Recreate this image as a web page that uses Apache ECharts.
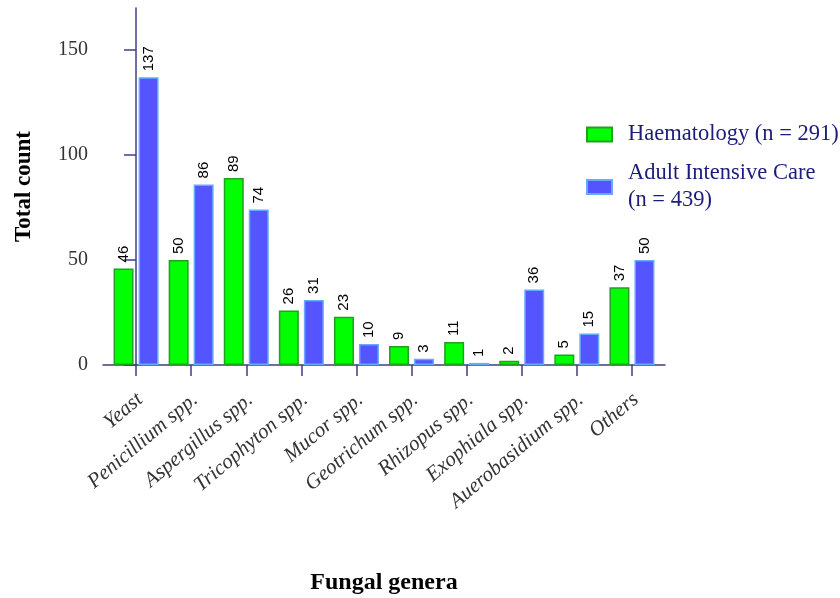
<!DOCTYPE html>
<html>
<head>
<meta charset="utf-8">
<script src="https://cdn.jsdelivr.net/npm/echarts@6/dist/echarts.min.js"></script>
<style>html,body{margin:0;padding:0;background:#fff;}#c{width:840px;height:598px;}</style>
</head>
<body>
<div id="c"></div>
<script>
const categories = ['Yeast', 'Penicillium spp.', 'Aspergillus spp.', 'Tricophyton spp.', 'Mucor spp.', 'Geotrichum spp.', 'Rhizopus spp.', 'Exophiala spp.', 'Auerobasidium spp.', 'Others'];
const haematology = [46, 50, 89, 26, 23, 9, 11, 2, 5, 37];
const adultIntensiveCare = [137, 86, 74, 31, 10, 3, 1, 36, 15, 50];
const yTicks = [0, 50, 100, 150];
const seriesNames = ['Haematology (n = 291)', 'Adult Intensive Care\n(n = 439)'];

const axisColor = '#3b3f7f';
const serif = '"Liberation Serif", "Times New Roman", serif';
const catIdx = categories.map((_, i) => i);
const labelPos = categories.map((_, i) => i - 0.05);

const chart = echarts.init(document.getElementById('c'), null, {renderer: 'canvas'});
const barLabel = {
  show: true, position: 'top', rotate: 90, align: 'left', verticalAlign: 'middle',
  distance: 6, color: '#000', fontFamily: '"Liberation Sans", Arial, sans-serif', fontSize: 15
};
chart.setOption({
  animation: false,
  grid: {left: 103, right: 175, top: 8, bottom: 233, containLabel: false, outerBoundsMode: 'none'},
  legend: {
    orient: 'vertical', left: 586, top: 121, padding: 0, itemWidth: 25, itemHeight: 14, itemGap: 12,
    icon: 'rect',
    textStyle: {fontFamily: serif, fontSize: 22.5, color: '#1c1c7c', lineHeight: 27, padding: [0, 0, 0, 11]},
    data: seriesNames
  },
  xAxis: {
    type: 'value', min: -0.6, max: 9.6,
    name: 'Fungal genera', nameLocation: 'middle', nameGap: 206,
    nameTextStyle: {fontFamily: serif, fontSize: 24, fontWeight: 'bold', color: '#000'},
    axisLine: {show: true, lineStyle: {color: axisColor, width: 1.5}},
    axisTick: {show: true, length: 11, customValues: catIdx, lineStyle: {color: axisColor, width: 1.5}},
    axisLabel: {
      customValues: labelPos, rotate: 40, margin: 24, align: 'right', verticalAlign: 'top',
      fontFamily: serif, fontSize: 21, fontStyle: 'italic', color: '#333',
      formatter: v => categories[Math.round(v)]
    },
    splitLine: {show: false}
  },
  yAxis: {
    type: 'value', min: 0, max: 170,
    name: 'Total count', nameLocation: 'middle', nameGap: 67, nameRotate: 90,
    nameTextStyle: {fontFamily: serif, fontSize: 23, fontWeight: 'bold', color: '#000'},
    axisLine: {show: true, lineStyle: {color: axisColor, width: 1.5}},
    axisTick: {show: true, length: 12, customValues: yTicks, lineStyle: {color: axisColor, width: 1.5}},
    axisLabel: {customValues: yTicks, margin: 15, fontFamily: serif, fontSize: 20, color: '#333'},
    splitLine: {show: false}
  },
  series: [
    {
      name: seriesNames[0], type: 'bar', barWidth: 20, barGap: '25%',
      itemStyle: {color: '#00ff00', borderColor: '#22a022', borderWidth: 1.5},
      label: barLabel,
      data: haematology.map((v, i) => [i, v])
    },
    {
      name: seriesNames[1], type: 'bar', barWidth: 20, barGap: '25%',
      itemStyle: {color: '#5555ff', borderColor: '#66aaff', borderWidth: 1.5},
      label: barLabel,
      data: adultIntensiveCare.map((v, i) => [i, v])
    }
  ]
});
</script>
</body>
</html>
